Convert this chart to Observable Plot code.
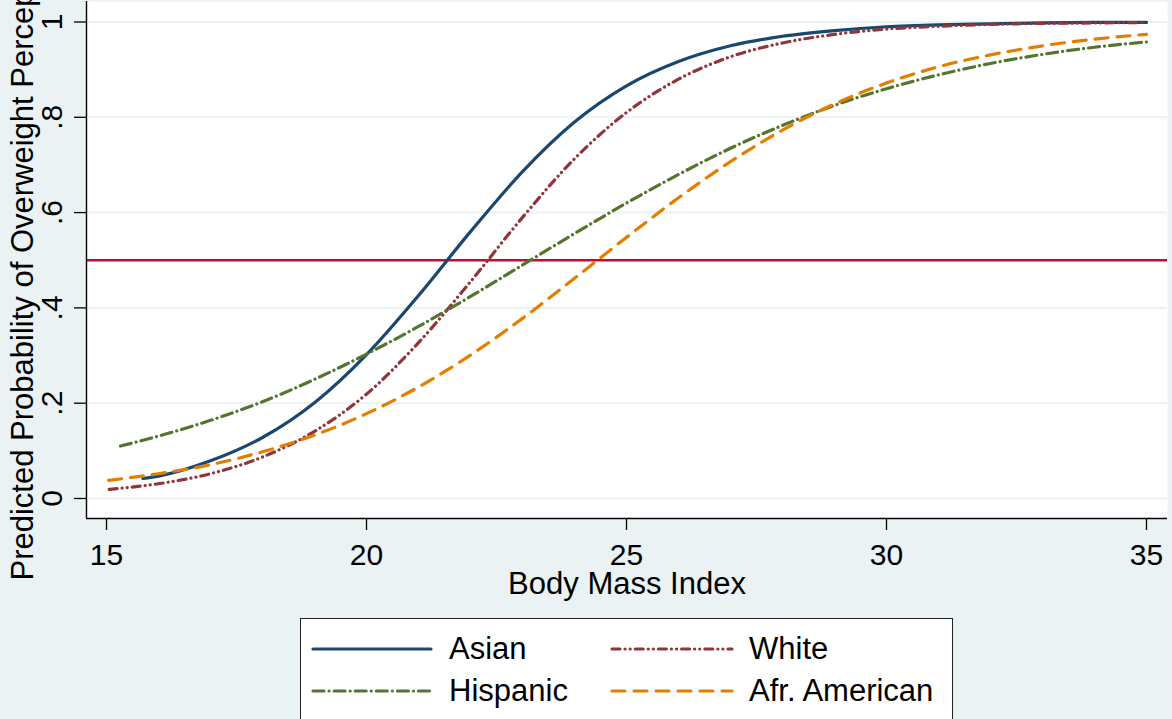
<!DOCTYPE html>
<html>
<head>
<meta charset="utf-8">
<script src="https://cdn.jsdelivr.net/npm/d3@7"></script>
<script src="https://cdn.jsdelivr.net/npm/@observablehq/plot@0.6"></script>
<style>
  html, body { margin: 0; padding: 0; width: 1172px; height: 719px; overflow: hidden; background: #EAF2F3; font-family: "Liberation Sans", Arial, sans-serif; }
  #chart { position: absolute; left: 0; top: 0; }
  #legend { position: absolute; left: 300px; top: 618px; width: 653px; height: 130px; background: #fff; border: 1px solid #222; box-sizing: border-box; }
  .item-line { position: absolute; }
  .item-text { position: absolute; font-size: 31px; line-height: 36px; color: #000; white-space: nowrap; }
</style>
</head>
<body>
<div id="chart"></div>
<div id="legend"></div>
<script>
// ---- data ----
const seriesNames = ["Asian", "White", "Hispanic", "Afr. American"];
const seriesColors = ["#1A476F", "#90353B", "#55752F", "#E37E00"];
const seriesDash = ["none", "8 5 0.1 5 0.1 5", "11 5 0.1 5", "13 9"];

const asianBmi = [15.7, 16, 17, 18, 19, 20, 21, 22, 23, 24, 25, 26, 27, 28, 29, 30, 31, 32, 33, 34, 35];
const asianP   = [0.042, 0.047, 0.079, 0.128, 0.201, 0.302, 0.426, 0.560, 0.686, 0.790, 0.866, 0.917, 0.950, 0.970, 0.982, 0.990, 0.994, 0.996, 0.998, 0.999, 0.999];

const whiteBmi = [15.05, 16, 17, 18, 19, 20, 21, 22, 23, 24, 25, 26, 27, 28, 29, 30, 31, 32, 33, 34, 35];
const whiteP   = [0.019, 0.031, 0.052, 0.087, 0.141, 0.219, 0.327, 0.455, 0.590, 0.713, 0.810, 0.880, 0.927, 0.956, 0.974, 0.985, 0.991, 0.995, 0.997, 0.998, 0.999];

const hispBmi = [15.27, 16, 17, 18, 19, 20, 21, 22, 23, 24, 25, 26, 27, 28, 29, 30, 31, 32, 33, 34, 35];
const hispP   = [0.110, 0.131, 0.164, 0.203, 0.250, 0.303, 0.361, 0.424, 0.490, 0.556, 0.620, 0.680, 0.735, 0.783, 0.825, 0.860, 0.889, 0.913, 0.932, 0.947, 0.958];

const afrBmi = [15.04, 16, 17, 18, 19, 20, 21, 22, 23, 24, 25, 26, 27, 28, 29, 30, 31, 32, 33, 34, 35];
const afrP   = [0.038, 0.052, 0.071, 0.098, 0.133, 0.178, 0.234, 0.301, 0.378, 0.462, 0.548, 0.631, 0.707, 0.773, 0.828, 0.872, 0.906, 0.931, 0.950, 0.964, 0.974];

const threshold = 0.5;
const xTicks = [15, 20, 25, 30, 35];
const yTicks = [0, 0.2, 0.4, 0.6, 0.8, 1];
const xDomain = [14.615, 35.404];
const yDomain = [-0.042, 1.043];
const xTitle = "Body Mass Index";
const yTitle = "Predicted Probability of Overweight Perception";

// ---- build tables ----
const bmis = [asianBmi, whiteBmi, hispBmi, afrBmi];
const probs = [asianP, whiteP, hispP, afrP];
const tables = seriesNames.map((name, i) => bmis[i].map((b, j) => ({bmi: b, p: probs[i][j], name})));

const yFmt = d => d === 0 ? "0" : d === 1 ? "1" : String(d).replace(/^0\./, ".");
const FONT = "Liberation Sans, Arial, sans-serif";

const chart = Plot.plot({
  width: 1172,
  height: 610,
  marginLeft: 86,
  marginRight: 5,
  marginTop: 1,
  marginBottom: 92,
  style: {background: "transparent", fontFamily: FONT, fontSize: "30px", color: "#000"},
  x: {domain: xDomain},
  y: {domain: yDomain},
  marks: [
    Plot.frame({fill: "white", stroke: "none"}),
    Plot.ruleY(yTicks, {stroke: "#EAF2F3", strokeWidth: 2}),
    Plot.ruleY([threshold], {stroke: "#C40A34", strokeWidth: 2.6}),
    ...tables.map((t, i) => Plot.line(t, {
      x: "bmi", y: "p", curve: "monotone-x",
      stroke: seriesColors[i], strokeWidth: 3.2,
      strokeDasharray: seriesDash[i] === "none" ? null : seriesDash[i],
      strokeLinecap: "round"
    })),
    Plot.ruleX([xDomain[0]], {stroke: "#000", strokeWidth: 1.4}),
    Plot.ruleY([yDomain[0]], {stroke: "#000", strokeWidth: 1.4}),
    Plot.axisX({ticks: xTicks, tickSize: 12, tickPadding: 13, fontSize: 30, label: null, strokeWidth: 1.3, tickFormat: d => String(d)}),
    Plot.axisY({ticks: yTicks, tickSize: 12, label: null, strokeWidth: 1.3, tickFormat: () => ""}),
    Plot.text(yTicks, {y: d => d, frameAnchor: "left", textAnchor: "middle", lineAnchor: "middle", rotate: -90, text: yFmt, dx: -34.5, fontSize: 30, fill: "#000"}),
    Plot.text([xTitle], {frameAnchor: "bottom", textAnchor: "middle", lineAnchor: "middle", dy: 66, fontSize: 31, fill: "#000"}),
    Plot.text([yTitle], {frameAnchor: "left", textAnchor: "middle", lineAnchor: "middle", rotate: -90, dx: -63, fontSize: 31, fill: "#000"})
  ]
});
document.getElementById("chart").appendChild(chart);

// ---- legend ----
const legend = document.getElementById("legend");
const pos = [
  {lx: 12, lw: 118, tx: 148, cy: 30},
  {lx: 311, lw: 120, tx: 448, cy: 30},
  {lx: 12, lw: 118, tx: 148, cy: 72},
  {lx: 311, lw: 120, tx: 448, cy: 72}
];
seriesNames.forEach((name, i) => {
  const p = pos[i];
  const svg = document.createElementNS("http://www.w3.org/2000/svg", "svg");
  svg.setAttribute("class", "item-line");
  svg.setAttribute("width", p.lw + 6);
  svg.setAttribute("height", 10);
  svg.style.left = (p.lx - 3) + "px";
  svg.style.top = (p.cy - 5) + "px";
  const ln = document.createElementNS("http://www.w3.org/2000/svg", "line");
  ln.setAttribute("x1", 3); ln.setAttribute("x2", p.lw + 3);
  ln.setAttribute("y1", 5); ln.setAttribute("y2", 5);
  ln.setAttribute("stroke", seriesColors[i]);
  ln.setAttribute("stroke-width", 3.2);
  ln.setAttribute("stroke-linecap", "round");
  if (seriesDash[i] !== "none") ln.setAttribute("stroke-dasharray", seriesDash[i]);
  svg.appendChild(ln);
  legend.appendChild(svg);
  const tx = document.createElement("div");
  tx.className = "item-text";
  tx.textContent = name;
  tx.style.left = p.tx + "px";
  tx.style.top = (p.cy - 18) + "px";
  legend.appendChild(tx);
});
</script>
</body>
</html>
